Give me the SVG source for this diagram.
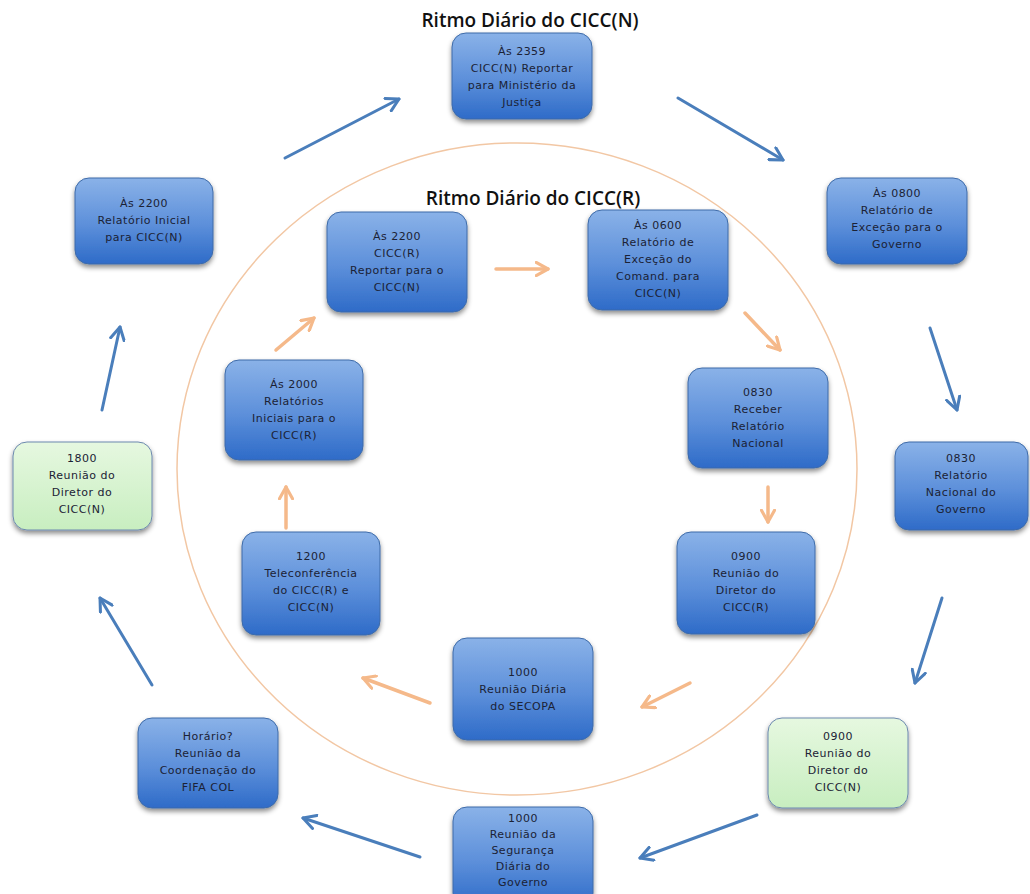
<svg xmlns="http://www.w3.org/2000/svg" width="1030" height="894" viewBox="0 0 1030 894">
  <defs>
    <linearGradient id="blueFill" x1="0" y1="0" x2="0" y2="1">
      <stop offset="0" stop-color="#8AB2E8"/>
      <stop offset="0.55" stop-color="#5C8FDA"/>
      <stop offset="1" stop-color="#2E6BC8"/>
    </linearGradient>
    <linearGradient id="greenFill" x1="0" y1="0" x2="0" y2="1">
      <stop offset="0" stop-color="#E6F8E0"/>
      <stop offset="1" stop-color="#C8EEC0"/>
    </linearGradient>
    <filter id="shadow" x="-10%" y="-10%" width="125%" height="130%">
      <feDropShadow dx="0" dy="3" stdDeviation="2.5" flood-color="#000" flood-opacity="0.45"/>
    </filter>
    <marker id="headBlue" viewBox="0 0 12 12" refX="10" refY="6" markerWidth="5.5" markerHeight="5.5" orient="auto" markerUnits="strokeWidth">
      <path d="M1,1 L10,6 L1,11" fill="none" stroke="#4A7EBB" stroke-width="2.2" stroke-linecap="round" stroke-linejoin="round"/>
    </marker>
    <marker id="headOrange" viewBox="0 0 12 12" refX="10" refY="6" markerWidth="4.5" markerHeight="4.5" orient="auto" markerUnits="strokeWidth">
      <path d="M1,1 L10,6 L1,11" fill="none" stroke="#F5B98A" stroke-width="2.4" stroke-linecap="round" stroke-linejoin="round"/>
    </marker>
  </defs>
  <style>
    .box { stroke: #3E6BA8; stroke-width: 1; filter: url(#shadow); }
    .blue { fill: url(#blueFill); }
    .green { fill: url(#greenFill); stroke: #6C88AE; }
    .lbl { font-family: "DejaVu Sans", "Liberation Sans", sans-serif; font-size: 11px; letter-spacing: 0.5px; fill: #1B2235; text-anchor: middle; }
    .title { font-family: "Open Sans", "Liberation Sans", sans-serif; font-size: 19px; font-weight: 600; fill: #111; text-anchor: middle; }
    .outer { stroke: #4A7EBB; stroke-width: 3; fill: none; stroke-linecap: round; marker-end: url(#headBlue); }
    .inner { stroke: #F5B98A; stroke-width: 3.5; fill: none; stroke-linecap: round; marker-end: url(#headOrange); }
  </style>

  <rect width="1030" height="894" fill="#FFFFFF"/>

  <!-- inner cycle ring -->
  <ellipse cx="517" cy="469" rx="340" ry="326" fill="none" stroke="#F2C7A4" stroke-width="1.5"/>

  <text class="title" x="530" y="27">Ritmo Diário do CICC(N)</text>
  <text class="title" x="533" y="205">Ritmo Diário do CICC(R)</text>

  <g id="connectors">
    <!-- outer loop -->
    <line class="outer" x1="285" y1="158" x2="399" y2="99"/>
    <line class="outer" x1="678" y1="98" x2="783" y2="160"/>
    <line class="outer" x1="930" y1="328" x2="957" y2="410"/>
    <line class="outer" x1="942" y1="598" x2="915" y2="683"/>
    <line class="outer" x1="757" y1="815" x2="640" y2="858"/>
    <line class="outer" x1="420" y1="857" x2="303" y2="818"/>
    <line class="outer" x1="152" y1="685" x2="100" y2="598"/>
    <line class="outer" x1="102" y1="410" x2="120" y2="327"/>
    <!-- inner loop -->
    <line class="inner" x1="496" y1="269" x2="548" y2="269"/>
    <line class="inner" x1="745" y1="313" x2="780" y2="350"/>
    <line class="inner" x1="768" y1="487" x2="768" y2="522"/>
    <line class="inner" x1="690" y1="683" x2="642" y2="707"/>
    <line class="inner" x1="430" y1="703" x2="363" y2="678"/>
    <line class="inner" x1="286" y1="528" x2="286" y2="487"/>
    <line class="inner" x1="276" y1="350" x2="314" y2="318"/>
  </g>

  <!-- outer nodes -->
  <g id="n-2359">
    <rect class="box blue" x="452" y="33" width="140" height="86" rx="14"/>
    <text class="lbl" x="522" y="55">Às 2359</text>
    <text class="lbl" x="522" y="72">CICC(N) Reportar</text>
    <text class="lbl" x="522" y="89">para Ministério da</text>
    <text class="lbl" x="522" y="106">Justiça</text>
  </g>
  <g id="n-0800">
    <rect class="box blue" x="827" y="178" width="140" height="86" rx="14"/>
    <text class="lbl" x="897" y="197">Às 0800</text>
    <text class="lbl" x="897" y="214">Relatório de</text>
    <text class="lbl" x="897" y="231">Exceção para o</text>
    <text class="lbl" x="897" y="248">Governo</text>
  </g>
  <g id="n-0830-gov">
    <rect class="box blue" x="895" y="442" width="133" height="88" rx="14"/>
    <text class="lbl" x="961" y="462">0830</text>
    <text class="lbl" x="961" y="479">Relatório</text>
    <text class="lbl" x="961" y="496">Nacional do</text>
    <text class="lbl" x="961" y="513">Governo</text>
  </g>
  <g id="n-0900-n">
    <rect class="box green" x="768" y="718" width="140" height="90" rx="14"/>
    <text class="lbl" x="838" y="740">0900</text>
    <text class="lbl" x="838" y="757">Reunião do</text>
    <text class="lbl" x="838" y="774">Diretor do</text>
    <text class="lbl" x="838" y="791">CICC(N)</text>
  </g>
  <g id="n-1000-seg">
    <rect class="box blue" x="453" y="807" width="140" height="100" rx="14"/>
    <text class="lbl" x="523" y="822">1000</text>
    <text class="lbl" x="523" y="838">Reunião da</text>
    <text class="lbl" x="523" y="854">Segurança</text>
    <text class="lbl" x="523" y="870">Diária do</text>
    <text class="lbl" x="523" y="886">Governo</text>
  </g>
  <g id="n-fifa">
    <rect class="box blue" x="138" y="718" width="140" height="90" rx="14"/>
    <text class="lbl" x="208" y="740">Horário?</text>
    <text class="lbl" x="208" y="757">Reunião da</text>
    <text class="lbl" x="208" y="774">Coordenação do</text>
    <text class="lbl" x="208" y="791">FIFA COL</text>
  </g>
  <g id="n-1800">
    <rect class="box green" x="13" y="442" width="139" height="88" rx="14"/>
    <text class="lbl" x="82" y="462">1800</text>
    <text class="lbl" x="82" y="479">Reunião do</text>
    <text class="lbl" x="82" y="496">Diretor do</text>
    <text class="lbl" x="82" y="513">CICC(N)</text>
  </g>
  <g id="n-2200-n">
    <rect class="box blue" x="75" y="178" width="138" height="86" rx="14"/>
    <text class="lbl" x="144" y="207">Às 2200</text>
    <text class="lbl" x="144" y="224">Relatório Inicial</text>
    <text class="lbl" x="144" y="241">para CICC(N)</text>
  </g>

  <!-- inner nodes -->
  <g id="n-2200-r">
    <rect class="box blue" x="327" y="212" width="140" height="100" rx="14"/>
    <text class="lbl" x="397" y="240">Às 2200</text>
    <text class="lbl" x="397" y="257">CICC(R)</text>
    <text class="lbl" x="397" y="274">Reportar para o</text>
    <text class="lbl" x="397" y="291">CICC(N)</text>
  </g>
  <g id="n-0600">
    <rect class="box blue" x="588" y="210" width="140" height="100" rx="14"/>
    <text class="lbl" x="658" y="229">Às 0600</text>
    <text class="lbl" x="658" y="246">Relatório de</text>
    <text class="lbl" x="658" y="263">Exceção do</text>
    <text class="lbl" x="658" y="280">Comand. para</text>
    <text class="lbl" x="658" y="297">CICC(N)</text>
  </g>
  <g id="n-0830-r">
    <rect class="box blue" x="688" y="368" width="140" height="100" rx="14"/>
    <text class="lbl" x="758" y="396">0830</text>
    <text class="lbl" x="758" y="413">Receber</text>
    <text class="lbl" x="758" y="430">Relatório</text>
    <text class="lbl" x="758" y="447">Nacional</text>
  </g>
  <g id="n-0900-r">
    <rect class="box blue" x="677" y="532" width="138" height="102" rx="14"/>
    <text class="lbl" x="746" y="560">0900</text>
    <text class="lbl" x="746" y="577">Reunião do</text>
    <text class="lbl" x="746" y="594">Diretor do</text>
    <text class="lbl" x="746" y="611">CICC(R)</text>
  </g>
  <g id="n-1000-secopa">
    <rect class="box blue" x="453" y="638" width="140" height="102" rx="14"/>
    <text class="lbl" x="523" y="676">1000</text>
    <text class="lbl" x="523" y="693">Reunião Diária</text>
    <text class="lbl" x="523" y="710">do SECOPA</text>
  </g>
  <g id="n-1200">
    <rect class="box blue" x="242" y="532" width="138" height="103" rx="14"/>
    <text class="lbl" x="311" y="560">1200</text>
    <text class="lbl" x="311" y="577">Teleconferência</text>
    <text class="lbl" x="311" y="594">do CICC(R) e</text>
    <text class="lbl" x="311" y="611">CICC(N)</text>
  </g>
  <g id="n-2000">
    <rect class="box blue" x="225" y="360" width="138" height="100" rx="14"/>
    <text class="lbl" x="294" y="388">Ás 2000</text>
    <text class="lbl" x="294" y="405">Relatórios</text>
    <text class="lbl" x="294" y="422">Iniciais para o</text>
    <text class="lbl" x="294" y="439">CICC(R)</text>
  </g>
</svg>
